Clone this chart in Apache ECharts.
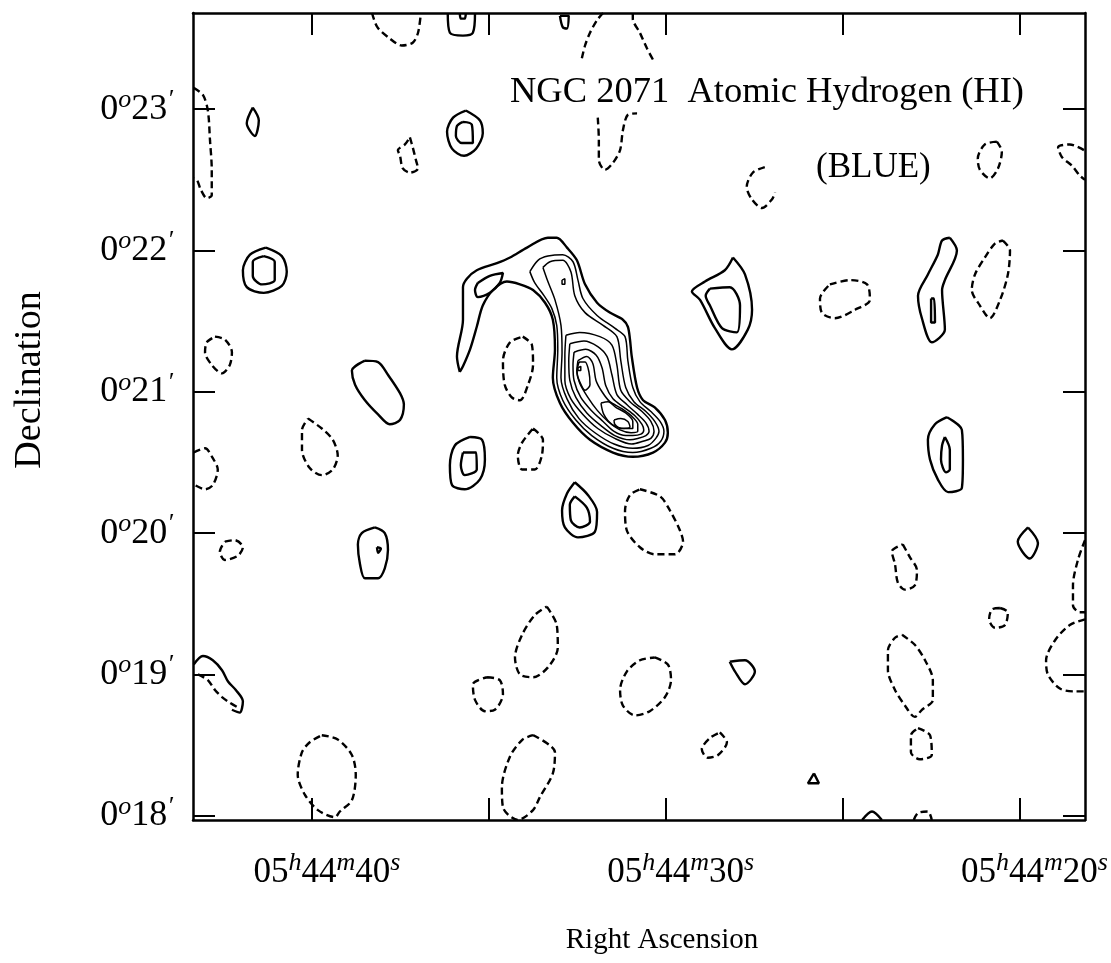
<!DOCTYPE html>
<html>
<head>
<meta charset="utf-8">
<title>NGC 2071 HI (BLUE)</title>
<script src="https://cdn.jsdelivr.net/npm/echarts@6/dist/echarts.min.js"></script>
<style>
  html, body { margin: 0; padding: 0; background: #fff; }
  #chart { width: 1111px; height: 963px; }
</style>
</head>
<body>
<div id="chart"></div>
<script>
// axis ranges: RA seconds after 05h44m, Dec arcminutes after 0 deg
const raRange = [18.15, 43.36];
const decRange = [17.97, 23.68];
const raTicks = [20, 25, 30, 35, 40];
const raLabels = [20, 30, 40];
const decTicks = [18, 19, 20, 21, 22, 23];

// positive contours (solid), each one a list of [RA s, Dec ']
const positiveContours = [
  [[36.16,23.68],[36.10,23.54],[35.73,23.52],[35.45,23.54],[35.39,23.68]],
  [[35.82,23.68],[35.79,23.64],[35.68,23.64],[35.65,23.68]],
  [[32.99,23.66],[32.91,23.58],[32.79,23.57],[32.74,23.66],[32.99,23.66]],
  [[41.67,23.01],[41.50,22.92],[41.61,22.81],[41.84,22.90],[41.67,23.01]],
  [[41.30,22.02],[40.85,21.96],[40.71,21.85],[40.85,21.75],[41.36,21.70],[41.84,21.74],[41.95,21.86],[41.75,21.97],[41.30,22.02]],
  [[41.36,21.96],[41.05,21.92],[41.05,21.79],[41.41,21.76],[41.67,21.82],[41.67,21.92],[41.36,21.96]],
  [[35.65,22.99],[35.25,22.92],[35.17,22.83],[35.36,22.72],[35.70,22.67],[36.04,22.72],[36.18,22.84],[36.01,22.94],[35.65,22.99]],
  [[35.73,22.91],[35.48,22.89],[35.45,22.76],[35.76,22.76],[35.93,22.81],[35.90,22.88],[35.73,22.91]],
  [[28.10,21.95],[27.76,21.83],[27.56,21.58],[27.68,21.44],[28.13,21.30],[28.61,21.45],[29.03,21.65],[29.26,21.71],[28.89,21.78],[28.33,21.86],[28.10,21.95]],
  [[28.75,21.73],[28.19,21.74],[27.90,21.61],[27.99,21.42],[28.41,21.45],[28.75,21.61],[28.87,21.68],[28.75,21.73]],
  [[21.97,22.09],[21.77,22.00],[22.11,21.79],[22.19,21.72],[22.11,21.44],[22.48,21.35],[22.76,21.52],[22.87,21.68],[22.59,21.83],[22.31,21.97],[22.19,22.07],[21.97,22.09]],
  [[22.50,21.66],[22.42,21.66],[22.39,21.49],[22.50,21.49],[22.50,21.66]],
  [[38.50,21.22],[38.13,21.21],[37.85,21.12],[37.51,20.99],[37.40,20.91],[37.51,20.80],[37.80,20.77],[38.13,20.84],[38.50,20.94],[38.78,21.05],[38.87,21.15],[38.50,21.22]],
  [[35.53,20.68],[35.19,20.66],[35.11,20.52],[35.25,20.38],[35.68,20.31],[36.04,20.34],[36.10,20.48],[35.96,20.62],[35.53,20.68]],
  [[35.73,20.57],[35.36,20.57],[35.34,20.45],[35.68,20.41],[35.79,20.48],[35.73,20.57]],
  [[32.57,20.36],[32.20,20.27],[31.94,20.15],[32.00,20.01],[32.48,19.97],[32.85,20.04],[32.93,20.16],[32.79,20.28],[32.57,20.36]],
  [[32.57,20.26],[32.23,20.18],[32.14,20.08],[32.43,20.04],[32.68,20.09],[32.71,20.20],[32.57,20.26]],
  [[38.22,20.04],[37.94,20.00],[37.85,19.88],[37.94,19.75],[38.13,19.68],[38.50,19.68],[38.64,19.78],[38.70,19.92],[38.59,20.00],[38.22,20.04]],
  [[38.16,19.90],[38.05,19.89],[38.13,19.86],[38.16,19.90]],
  [[43.34,19.07],[43.08,19.13],[42.80,19.10],[42.54,19.03],[42.37,18.95],[42.15,18.89],[41.95,18.81],[42.04,18.73],[42.26,18.75]],
  [[22.05,20.82],[21.63,20.73],[21.60,20.52],[21.63,20.32],[22.02,20.29],[22.31,20.38],[22.53,20.52],[22.59,20.66],[22.39,20.77],[22.05,20.82]],
  [[22.11,20.68],[21.97,20.59],[21.97,20.45],[22.08,20.43],[22.22,20.52],[22.19,20.62],[22.11,20.68]],
  [[19.76,20.04],[19.48,19.93],[19.71,19.82],[20.05,19.94],[19.76,20.04]],
  [[28.19,19.09],[27.76,19.10],[27.48,19.02],[27.76,18.93],[28.04,19.02],[28.19,19.09]],
  [[25.81,18.30],[25.67,18.23],[25.98,18.23],[25.81,18.30]],
  [[24.45,17.97],[24.17,18.03],[23.89,17.97]],
  // outer contour of the main cloud
  [[35.82,21.14],[35.90,21.25],[35.73,21.51],[35.73,21.74],[35.62,21.80],[35.34,21.86],[34.77,21.91],[34.40,21.95],[33.92,22.02],[33.33,22.09],[33.08,22.09],[32.79,22.02],[32.51,21.93],[32.28,21.76],[31.94,21.63],[31.58,21.56],[31.21,21.51],[31.07,21.46],[31.01,21.37],[30.96,21.25],[30.81,21.03],[30.64,20.94],[30.31,20.89],[30.02,20.80],[29.94,20.71],[30.02,20.64],[30.36,20.57],[30.93,20.54],[31.49,20.57],[32.14,20.66],[32.62,20.78],[32.99,20.92],[33.19,21.10],[33.13,21.30],[33.19,21.51],[33.41,21.63],[33.75,21.72],[34.12,21.76],[34.49,21.78],[34.88,21.72],[35.17,21.61],[35.34,21.46],[35.53,21.30],[35.73,21.18],[35.82,21.14]],
  [[35.31,21.77],[34.97,21.82],[34.60,21.84],[34.69,21.77],[34.97,21.70],[35.31,21.67],[35.39,21.72],[35.31,21.77]]
];

// inner contours of the main cloud (thin solid)
const coreContours = [
  [[33.84,21.85],[33.61,21.93],[33.33,21.96],[32.91,21.97],[32.62,21.92],[32.48,21.79],[32.34,21.66],[31.94,21.54],[31.44,21.45],[31.15,21.39],[31.07,21.22],[30.93,21.03],[30.73,20.93],[30.42,20.86],[30.16,20.79],[30.05,20.72],[30.14,20.65],[30.42,20.60],[30.93,20.57],[31.49,20.60],[32.09,20.69],[32.54,20.80],[32.91,20.94],[33.08,21.10],[33.05,21.30],[33.08,21.47],[33.22,21.59],[33.44,21.68],[33.70,21.77],[33.84,21.85]],
  [[33.47,21.88],[33.27,21.92],[32.91,21.93],[32.68,21.85],[32.57,21.68],[32.28,21.56],[31.77,21.47],[31.38,21.39],[31.27,21.22],[31.13,21.03],[30.90,20.93],[30.56,20.86],[30.31,20.79],[30.19,20.72],[30.28,20.67],[30.50,20.62],[30.93,20.60],[31.46,20.63],[32.00,20.71],[32.45,20.81],[32.79,20.95],[32.96,21.10],[32.93,21.28],[32.96,21.47],[33.13,21.65],[33.33,21.78],[33.47,21.88]],
  [[32.82,21.40],[32.43,21.42],[31.86,21.39],[31.52,21.33],[31.38,21.19],[31.27,21.01],[31.01,20.93],[30.67,20.86],[30.42,20.79],[30.33,20.72],[30.42,20.67],[30.64,20.65],[30.96,20.63],[31.44,20.67],[31.92,20.74],[32.34,20.84],[32.68,20.95],[32.85,21.08],[32.85,21.26],[32.82,21.40]],
  [[32.71,21.34],[32.31,21.36],[31.92,21.32],[31.66,21.25],[31.52,21.12],[31.38,20.98],[31.10,20.91],[30.79,20.84],[30.56,20.78],[30.47,20.72],[30.56,20.69],[30.79,20.67],[31.01,20.66],[31.44,20.69],[31.83,20.76],[32.23,20.85],[32.54,20.96],[32.71,21.08],[32.74,21.22],[32.71,21.34]],
  [[32.59,21.28],[32.26,21.30],[31.97,21.26],[31.80,21.17],[31.69,21.04],[31.49,20.95],[31.18,20.89],[30.87,20.83],[30.67,20.77],[30.62,20.73],[30.70,20.70],[30.93,20.69],[31.13,20.69],[31.46,20.72],[31.77,20.79],[32.11,20.87],[32.40,20.96],[32.59,21.08],[32.62,21.19],[32.59,21.28]],
  [[32.48,21.22],[32.23,21.25],[32.06,21.20],[31.97,21.08],[31.80,21.00],[31.58,20.93],[31.24,20.88],[30.93,20.82],[30.79,20.77],[30.79,20.72],[30.98,20.71],[31.29,20.73],[31.63,20.79],[31.94,20.87],[32.20,20.96],[32.43,21.06],[32.51,21.15],[32.48,21.22]],
  [[32.45,21.21],[32.28,21.21],[32.17,21.14],[32.14,21.05],[32.28,21.01],[32.43,21.07],[32.51,21.14],[32.45,21.21]],
  [[31.83,20.92],[31.63,20.93],[31.41,20.89],[31.13,20.85],[30.93,20.79],[30.93,20.74],[31.18,20.74],[31.52,20.77],[31.75,20.84],[31.83,20.92]],
  [[31.46,20.80],[31.27,20.81],[31.07,20.79],[31.01,20.75],[31.24,20.74],[31.44,20.77],[31.46,20.80]],
  [[32.48,21.17],[32.40,21.18],[32.40,21.15],[32.48,21.15],[32.48,21.17]],
  [[32.93,21.79],[32.85,21.80],[32.85,21.76],[32.93,21.76],[32.93,21.79]]
];

// negative contours (dashed)
const negativeContours = [
  [[38.30,23.68],[38.15,23.58],[37.80,23.50],[37.46,23.45],[37.15,23.47],[37.00,23.54],[36.92,23.68]],
  [[32.37,23.36],[32.28,23.45],[32.14,23.54],[31.94,23.63],[31.77,23.68]],
  [[30.93,23.68],[30.93,23.64],[30.73,23.54],[30.53,23.43],[30.36,23.35]],
  [[43.34,23.15],[43.08,23.10],[42.94,22.99],[42.88,22.78],[42.83,22.57],[42.83,22.39],[42.97,22.37],[43.14,22.43],[43.25,22.50],[43.34,22.51]],
  [[37.23,22.80],[37.15,22.73],[37.06,22.64],[37.00,22.58],[37.23,22.55],[37.43,22.58],[37.51,22.67],[37.57,22.71],[37.37,22.75],[37.23,22.80]],
  [[31.92,22.94],[31.89,22.78],[31.89,22.64],[31.72,22.57],[31.49,22.62],[31.29,22.71],[31.21,22.85],[31.07,22.96],[30.81,22.97]],
  [[27.20,22.59],[27.54,22.55],[27.71,22.45],[27.56,22.36],[27.28,22.30],[27.00,22.36],[26.91,22.41]],
  [[20.64,22.77],[20.50,22.70],[20.61,22.58],[20.84,22.51],[21.12,22.57],[21.18,22.65],[20.98,22.75],[20.64,22.77]],
  [[18.18,22.71],[18.58,22.75],[18.91,22.73],[18.80,22.66],[18.52,22.60],[18.30,22.53],[18.15,22.50]],
  [[25.36,21.76],[24.79,21.79],[24.31,21.76],[24.23,21.65],[24.65,21.58],[25.22,21.52],[25.59,21.56],[25.64,21.66],[25.36,21.76]],
  [[20.47,22.07],[20.27,22.00],[20.33,21.83],[20.55,21.65],[20.84,21.52],[21.12,21.61],[21.35,21.72],[21.26,21.83],[20.98,21.95],[20.69,22.05],[20.47,22.07]],
  [[42.74,21.39],[42.46,21.37],[42.26,21.28],[42.32,21.19],[42.54,21.13],[42.83,21.19],[43.02,21.28],[42.97,21.35],[42.74,21.39]],
  [[40.11,20.81],[39.72,20.74],[39.41,20.66],[39.27,20.55],[39.41,20.45],[39.72,20.41],[40.06,20.46],[40.28,20.59],[40.28,20.73],[40.11,20.81]],
  [[43.34,20.57],[43.02,20.60],[42.80,20.53],[42.66,20.45],[42.80,20.34],[43.02,20.31],[43.31,20.34]],
  [[34.04,21.39],[33.78,21.33],[33.75,21.19],[33.89,21.05],[34.12,20.94],[34.35,20.96],[34.55,21.05],[34.60,21.22],[34.40,21.35],[34.04,21.39]],
  [[33.75,20.74],[33.47,20.66],[33.50,20.55],[33.70,20.45],[34.06,20.45],[34.18,20.55],[34.06,20.64],[33.75,20.74]],
  [[30.73,20.31],[30.16,20.26],[29.88,20.16],[29.60,20.02],[29.51,19.94],[29.74,19.85],[30.31,19.85],[30.73,19.90],[31.10,20.02],[31.15,20.16],[31.01,20.27],[30.73,20.31]],
  [[42.46,19.94],[42.18,19.95],[41.95,19.90],[42.09,19.84],[42.46,19.81],[42.60,19.87],[42.46,19.94]],
  [[43.22,19.00],[42.94,18.96],[42.74,18.89],[42.54,18.84],[42.32,18.80],[42.12,18.77]],
  [[39.72,18.57],[39.27,18.54],[38.87,18.43],[38.76,18.29],[38.87,18.11],[39.21,18.03],[39.35,17.99],[39.83,18.04],[40.20,18.15],[40.40,18.29],[40.28,18.45],[40.06,18.52],[39.72,18.57]],
  [[35.05,18.98],[34.69,18.96],[34.60,18.86],[34.83,18.75],[35.11,18.74],[35.39,18.82],[35.45,18.93],[35.05,18.98]],
  [[33.36,19.48],[33.08,19.35],[33.05,19.19],[33.33,19.05],[33.75,18.98],[34.12,19.00],[34.26,19.12],[34.06,19.28],[33.70,19.42],[33.36,19.48]],
  [[33.75,18.57],[33.13,18.45],[33.19,18.30],[33.56,18.13],[33.75,18.04],[34.18,17.97],[34.60,18.06],[34.63,18.20],[34.40,18.42],[34.04,18.54],[33.75,18.57]],
  [[30.31,19.12],[29.94,19.07],[29.85,18.96],[30.02,18.84],[30.45,18.74],[30.87,18.71],[31.21,18.78],[31.29,18.89],[31.10,19.02],[30.73,19.10],[30.31,19.12]],
  [[23.30,19.92],[23.10,19.83],[22.90,19.74],[22.96,19.63],[23.24,19.60],[23.44,19.65],[23.52,19.78],[23.61,19.87],[23.30,19.92]],
  [[20.55,19.47],[20.33,19.44],[20.41,19.35],[20.69,19.33],[20.86,19.39],[20.78,19.46],[20.55,19.47]],
  [[18.15,19.95],[18.35,19.81],[18.49,19.63],[18.49,19.49],[18.30,19.44],[18.15,19.44]],
  [[18.15,19.39],[18.58,19.35],[19.00,19.24],[19.25,19.10],[19.20,19.00],[18.86,18.90],[18.43,18.88],[18.15,18.88]],
  [[23.32,19.28],[22.96,19.21],[22.67,19.10],[22.45,18.96],[22.45,18.82],[22.76,18.75],[22.96,18.70],[23.24,18.78],[23.52,18.89],[23.72,19.03],[23.72,19.17],[23.52,19.26],[23.32,19.28]],
  [[22.87,18.62],[22.53,18.57],[22.48,18.43],[22.82,18.40],[23.07,18.45],[23.07,18.57],[22.87,18.62]],
  [[28.47,18.59],[28.27,18.52],[28.52,18.43],[28.81,18.41],[28.98,18.47],[28.75,18.55],[28.47,18.59]],
  [[22.99,17.97],[22.87,18.02],[22.59,18.03],[22.48,17.97]]
];

const serif = '"Liberation Serif", "DejaVu Serif", serif';

const chart = echarts.init(document.getElementById('chart'));

function contourSeries(list, lineStyle) {
  return list.map(pts => ({
    type: 'line',
    data: pts,
    showSymbol: false,
    smooth: 0.3,
    silent: true,
    lineStyle: lineStyle
  }));
}

const tickStyle = { color: '#000', width: 2 };
const lineAxis = { show: true, lineStyle: { color: '#000', width: 2.5 } };

const option = {
  backgroundColor: '#fff',
  animation: false,
  grid: { left: 193, right: 26, top: 13, bottom: 143 },
  xAxis: [
    {
      type: 'value', position: 'bottom', inverse: true,
      min: raRange[0], max: raRange[1],
      axisLine: lineAxis,
      axisTick: { show: true, inside: true, length: 22, customValues: raTicks, lineStyle: tickStyle },
      axisLabel: {
        customValues: raLabels,
        margin: 30,
        color: '#000',
        fontFamily: serif,
        fontSize: 35,
        padding: [0, 0, 0, 30],
        formatter: v => '05{s|h}44{s|m}' + v + '{s|s}',
        rich: {
          s: { fontSize: 26, fontStyle: 'italic', fontFamily: serif, color: '#000', verticalAlign: 'top', padding: [0, 0, 20, 0] }
        }
      },
      splitLine: { show: false }
    },
    {
      type: 'value', position: 'top', inverse: true,
      min: raRange[0], max: raRange[1],
      axisLine: lineAxis,
      axisTick: { show: true, inside: true, length: 22, customValues: raTicks, lineStyle: tickStyle },
      axisLabel: { show: false },
      splitLine: { show: false }
    }
  ],
  yAxis: [
    {
      type: 'value', position: 'left',
      min: decRange[0], max: decRange[1],
      axisLine: lineAxis,
      axisTick: { show: true, inside: true, length: 22, customValues: decTicks, lineStyle: tickStyle },
      axisLabel: {
        customValues: decTicks,
        margin: 20,
        color: '#000',
        fontFamily: serif,
        fontSize: 36,
        formatter: v => '0{d|o}' + v + '{d|\u2032}',
        rich: {
          d: { fontSize: 26, fontStyle: 'italic', fontFamily: serif, color: '#000', verticalAlign: 'top', padding: [0, 0, 18, 0] }
        }
      },
      splitLine: { show: false }
    },
    {
      type: 'value', position: 'right',
      min: decRange[0], max: decRange[1],
      axisLine: lineAxis,
      axisTick: { show: true, inside: true, length: 22, customValues: decTicks, lineStyle: tickStyle },
      axisLabel: { show: false },
      splitLine: { show: false }
    }
  ],
  graphic: [
    { type: 'text', x: 510, y: 92, style: { text: 'NGC 2071  Atomic Hydrogen (HI)', font: '36.5px ' + serif, fill: '#000', textVerticalAlign: 'middle' } },
    { type: 'text', x: 816, y: 168, style: { text: '(BLUE)', font: '35px ' + serif, fill: '#000', textVerticalAlign: 'middle' } },
    { type: 'text', x: 662, y: 940, style: { text: 'Right Ascension', font: '29px ' + serif, fill: '#000', textAlign: 'center', textVerticalAlign: 'middle' } },
    { type: 'text', x: 30, y: 380, rotation: Math.PI / 2, style: { text: 'Declination', font: '38px ' + serif, fill: '#000', textAlign: 'center', textVerticalAlign: 'middle' } }
  ],
  series: [].concat(
    contourSeries(positiveContours, { color: '#000', width: 2.4, type: 'solid' }),
    contourSeries(coreContours, { color: '#000', width: 1.5, type: 'solid' }),
    contourSeries(negativeContours, { color: '#000', width: 2.4, type: [7, 4] })
  )
};

chart.setOption(option);
</script>
</body>
</html>
